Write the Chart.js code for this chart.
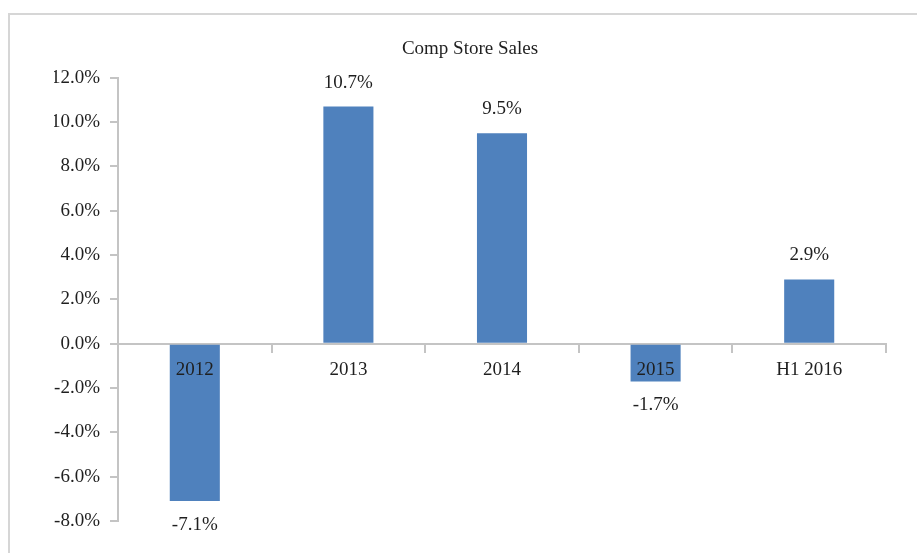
<!DOCTYPE html>
<html>
<head>
<meta charset="utf-8">
<script src="https://cdn.jsdelivr.net/npm/chart.js@4/dist/chart.umd.min.js"></script>
<style>
  html, body { margin: 0; padding: 0; background: #fff; overflow: hidden; }
  #frame {
    position: absolute; left: 8px; top: 13px;
    width: 1200px; height: 1000px;
    border: 2px solid #d6d6d6;
  }
  #chart { position: absolute; left: 0; top: 0; }
</style>
</head>
<body>
<div id="frame"></div>
<canvas id="chart" width="917" height="553"></canvas>
<script>
// Données du graphique
const categories = ['2012', '2013', '2014', '2015', 'H1 2016'];
const compSales = [-7.1, 10.7, 9.5, -1.7, 2.9];
const yTicks = { min: -8, max: 12, step: 2 };
const chartTitle = 'Comp Store Sales';

const serif = 'Liberation Serif, Times New Roman, serif';
const textColor = '#1f1f1f';
const axisColor = '#c4c4c4';

// Étiquettes de valeurs au-dessus / en dessous des barres
const valueLabels = {
    id: 'valueLabels',
    afterDatasetsDraw(chart) {
        const ctx = chart.ctx;
        const meta = chart.getDatasetMeta(0);
        ctx.save();
        ctx.font = '19px ' + serif;
        ctx.fillStyle = textColor;
        ctx.textAlign = 'center';
        ctx.textBaseline = 'middle';
        meta.data.forEach((bar, i) => {
            const value = compSales[i];
            const y = value >= 0 ? bar.y - 24 : bar.y + 24;
            ctx.fillText(value.toFixed(1) + '%', bar.x, y);
        });
        ctx.restore();
    }
};

new Chart(document.getElementById('chart'), {
    type: 'bar',
    data: {
        labels: categories,
        datasets: [{
            data: compSales,
            backgroundColor: '#4F81BD',
            borderWidth: 0,
            barPercentage: 0.326,
            categoryPercentage: 1
        }]
    },
    options: {
        responsive: false,
        animation: false,
        layout: { padding: { left: 54, right: 31, top: 0, bottom: 32 } },
        plugins: {
            legend: { display: false },
            tooltip: { enabled: false },
            title: {
                display: true,
                text: chartTitle,
                color: textColor,
                font: { family: serif, size: 19, weight: 'normal' },
                padding: { top: 38, bottom: 17 }
            }
        },
        scales: {
            y: {
                min: yTicks.min,
                max: yTicks.max,
                afterFit: scale => { scale.width = 64; },
                ticks: {
                    stepSize: yTicks.step,
                    color: textColor,
                    padding: 10,
                    font: { family: serif, size: 19 },
                    callback: value => value.toFixed(1) + '%'
                },
                grid: {
                    drawOnChartArea: false,
                    drawTicks: true,
                    tickLength: 8,
                    color: axisColor,
                    lineWidth: 2
                },
                border: { display: true, color: axisColor, width: 2 }
            },
            x: {
                position: { y: 0 },
                ticks: {
                    z: 1,
                    color: textColor,
                    padding: 7,
                    font: { family: serif, size: 19 }
                },
                grid: {
                    offset: true,
                    drawOnChartArea: false,
                    drawTicks: true,
                    tickLength: 8,
                    color: axisColor,
                    lineWidth: 2
                },
                border: { display: true, color: axisColor, width: 2 }
            }
        }
    },
    plugins: [valueLabels]
});
</script>
</body>
</html>
